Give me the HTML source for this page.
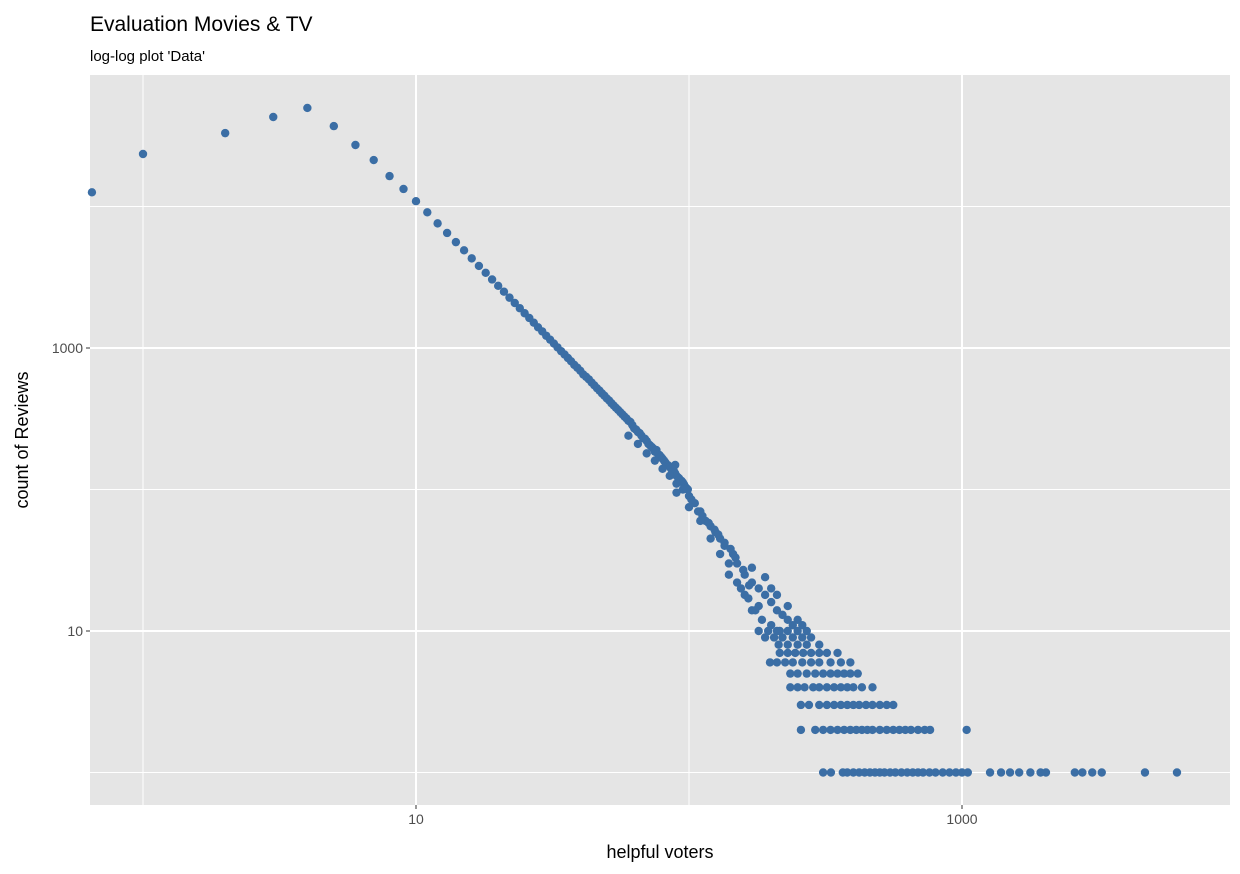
<!DOCTYPE html>
<html><head><meta charset="utf-8"><style>
body{margin:0;background:#fff;font-family:"Liberation Sans",Arial,sans-serif}
svg{display:block}
</style></head><body>
<svg id="chart" width="1240" height="874" viewBox="0 0 1240 874" xmlns="http://www.w3.org/2000/svg">
<rect width="1240" height="874" fill="#fff"/>
<text x="90" y="31" font-size="21" fill="#000">Evaluation Movies &amp; TV</text>
<text x="90" y="61" font-size="15" fill="#000">log-log plot 'Data'</text>
<rect x="90" y="75" width="1140" height="730" fill="#E5E5E5"/>
<g id="grid"></g>
<g id="pts"></g>
<g id="axes"></g>
<text x="660" y="858" font-size="18" text-anchor="middle" fill="#000">helpful voters</text>
<text transform="translate(28,440) rotate(-90)" font-size="18" text-anchor="middle" fill="#000">count of Reviews</text>
</svg>
<script>
const xMajorTicks=[10,1000];
const xMinorTicks=[1,100];
const yMajorTicks=[10,1000];
const yMinorTicks=[1,100,10000];
const tickLabels=["10","1000"];
const lineX=[0.65,1,2,3,4,5,6,7,8,9,10,11,12,13,14,15,16,17,18,19,20,21,22,23,24,25,26,27,28,29,30,31,32,33,34,35,36,37,38,39,40,41,42,43,44,45,46,47,48,49,50,51,52,53,54,55,56,57,58,59,60,61,62,63,64,65,66,67,68,69,70,71,72,73,74,75,76,77,78,79,80,81,82,83,84,85,86,87,88,89,90,91,92,93,94,95,96,97,98,99];
const lineY=[12600,23500,33000,42900,49700,37000,27200,21300,16400,13300,10900,9100,7600,6500,5600,4900,4300,3800,3400,3050,2750,2500,2270,2080,1910,1760,1630,1510,1400,1310,1220,1145,1075,1010,950,900,850,805,760,725,690,650,625,600,570,545,520,500,478,460,440,425,407,392,378,365,352,340,328,318,306,300,285,270,265,255,250,240,230,228,220,210,205,200,195,185,190,178,175,170,165,160,155,150,148,145,140,138,135,130,125,122,120,116,115,112,108,104,102,100];
const tailX=[89,150,160,170,180,190,200,210,220,230,240,170,190,200,210,230,250,260,180,165,175,155,145,140,135,130,125,120,115,110,105,100,95,90,85,80,75,70,65,60,130,120,110,100,90,140,150,160,170,185,200,215,102,108,112,118,124,128,135,142,148,158,166];
const tailY=[149,30,25,22,20,18,16,14,13,12,11,28,24,20,18,15,12,11,15,17,14,20,35,30,40,45,50,55,60,70,80,90,100,110,125,140,160,180,210,240,35,45,60,75,95,25,22,18,14,12,11,10,85,70,65,58,52,48,42,38,33,27,21];
const rowCounts=[1,2,3,4,5,6,7,8,9,10];
const rowX=[
[310,331,366,380,400,420,440,460,480,500,520,545,570,600,630,660,690,720,760,800,850,900,950,1000,1050,1267,1390,1500,1620,1780,1940,2030,2590,2760,3000,3250,4680,6130],
[257,290,310,330,350,370,390,410,430,450,470,500,530,560,590,620,650,690,730,764,1040],
[257,275,300,320,340,360,380,400,420,445,470,500,530,560],
[235,250,265,285,300,320,340,360,380,400,430,470],
[235,250,270,290,310,330,350,370,390,415],
[198,210,225,240,260,280,300,330,360,390],
[215,230,245,262,280,300,320,350],
[213,230,250,270,300],
[190,205,220,240,260,280],
[180,195,210,230,250,270]
];
const NS="http://www.w3.org/2000/svg";
const L=90,R=1230,T=75,B=805;
function xs(v){return 143+273*Math.log10(v);}
function ys(v){return 348+141.5*(3-Math.log10(v));}
const grid=document.getElementById('grid'),pts=document.getElementById('pts'),axes=document.getElementById('axes');
function line(x1,y1,x2,y2,w,name){const l=document.createElementNS(NS,'line');l.setAttribute('x1',x1);l.setAttribute('y1',y1);l.setAttribute('x2',x2);l.setAttribute('y2',y2);l.setAttribute('stroke','#fff');l.setAttribute('stroke-width',w);


grid.appendChild(l);}
yMinorTicks.forEach(v=>line(L,ys(v),R,ys(v),1,'y-minor-gridline'));
xMinorTicks.forEach(v=>line(xs(v),T,xs(v),B,1,'x-minor-gridline'));
yMajorTicks.forEach(v=>line(L,ys(v),R,ys(v),2,'y-major-gridline'));
xMajorTicks.forEach(v=>line(xs(v),T,xs(v),B,2,'x-major-gridline'));
function txt(x,y,s,anchor,name){const t=document.createElementNS(NS,'text');t.setAttribute('x',x);t.setAttribute('y',y);t.setAttribute('font-size','14');t.setAttribute('fill','#4D4D4D');t.setAttribute('text-anchor',anchor);t.textContent=s;


axes.appendChild(t);}
function tick(x1,y1,x2,y2,name){const l=document.createElementNS(NS,'line');l.setAttribute('x1',x1);l.setAttribute('y1',y1);l.setAttribute('x2',x2);l.setAttribute('y2',y2);l.setAttribute('stroke','#333');l.setAttribute('stroke-width',1);


axes.appendChild(l);}
xMajorTicks.forEach((v,i)=>{tick(xs(v),B,xs(v),B+4,'x-tick');txt(xs(v),824,tickLabels[i],'middle','x-tick-label');});
yMajorTicks.forEach((v,i)=>{tick(L-4,ys(v),L,ys(v),'y-tick');txt(83,ys(v)+5,tickLabels[i],'end','y-tick-label');});
function dot(x,y){let cx=Math.max(L,Math.min(R,xs(x)));const c=document.createElementNS(NS,'circle');c.setAttribute('cx',cx);c.setAttribute('cy',ys(y));c.setAttribute('r',4.2);c.setAttribute('fill','#3B6EA5');


pts.appendChild(c);}
lineX.forEach((x,i)=>dot(x,lineY[i]));
tailX.forEach((x,i)=>dot(x,tailY[i]));
rowCounts.forEach((c,i)=>rowX[i].forEach(x=>dot(x,c)));
</script>
</body></html>
